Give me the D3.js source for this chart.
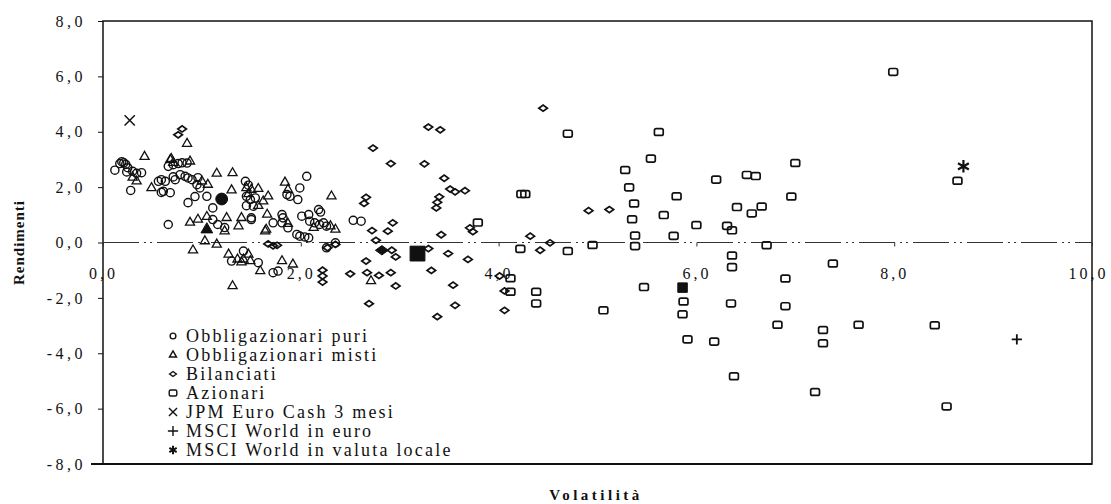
<!DOCTYPE html>
<html>
<head>
<meta charset="utf-8">
<script src="https://cdn.jsdelivr.net/npm/d3@7"></script>
<style>
  body { margin: 0; background: #fff; }
  svg { display: block; font-family: "Liberation Serif", "DejaVu Serif", serif; }
</style>
</head>
<body>
<svg id="chart" width="1111" height="504"></svg>
<script>
// valori: [volatilita, rendimento]
let obbligPuri = [
  [0.12, 2.61], [0.17, 2.85], [0.19, 2.92], [0.21, 2.88], [0.23, 2.82], [0.25, 2.7],
  [0.24, 2.55], [0.3, 2.57], [0.34, 2.5], [0.39, 2.52], [0.28, 1.88],
  [0.56, 2.21], [0.63, 2.21], [0.59, 2.27], [0.61, 1.85], [0.68, 1.8], [0.59, 1.81],
  [0.71, 2.81], [0.76, 2.85], [0.8, 2.88], [0.66, 2.75], [0.85, 2.87],
  [0.71, 2.37], [0.73, 2.27], [0.78, 2.45], [0.83, 2.39], [0.9, 2.27], [0.96, 2.34], [0.86, 2.33],
  [0.95, 2.09], [0.98, 1.97], [0.93, 1.66], [0.86, 1.44], [1.05, 1.67], [1.11, 1.25],
  [0.66, 0.65],
  [1.44, 2.21], [1.47, 2.07], [1.45, 1.67], [1.49, 1.55], [1.54, 1.61], [1.45, 1.33], [1.52, 1.31],
  [1.86, 1.73], [1.89, 1.67], [2.06, 2.39], [1.99, 1.97], [1.97, 1.55],
  [1.11, 0.83], [1.16, 0.65], [1.23, 0.54], [1.5, 0.89], [1.5, 0.83],
  [1.81, 1.01], [1.82, 0.89], [1.72, 0.71], [1.81, 0.71], [1.87, 0.53],
  [2.01, 0.95], [2.08, 1.01], [2.18, 1.19], [2.2, 1.1], [2.09, 0.77], [2.14, 0.71],
  [2.19, 0.65], [2.23, 0.71], [2.26, 0.59],
  [1.96, 0.29], [1.99, 0.23], [2.08, 0.17], [2.04, 0.2],
  [2.26, -0.19], [2.35, -0.01],
  [1.3, -0.67], [1.42, -0.31], [1.57, -0.73], [1.72, -1.09], [1.77, -1.03],
  [2.53, 0.8], [2.61, 0.77]
];

let obbligMisti = [
  [0.42, 3.1], [0.34, 2.21], [0.3, 2.35], [0.49, 1.97], [0.68, 2.99], [0.71, 2.88],
  [0.88, 2.93], [0.85, 3.57], [0.69, 3.02],
  [1.0, 2.21], [1.06, 2.09], [1.15, 2.49], [1.31, 2.51], [1.3, 1.89],
  [1.45, 1.97], [1.5, 1.91], [1.57, 1.94], [1.57, 1.33], [1.47, 1.75],
  [1.84, 2.17], [1.87, 1.91], [2.31, 1.67], [1.67, 1.67], [1.62, 1.49],
  [0.88, 0.72], [0.96, 0.83], [1.05, 0.93], [1.25, 0.89], [1.23, 0.41], [1.37, 0.59],
  [1.4, 0.89], [1.66, 1.01], [1.64, 0.41], [1.87, 0.68], [2.13, 0.53], [2.3, 0.59],
  [2.35, 0.47], [1.65, 0.47],
  [0.91, -0.28], [1.03, 0.05], [1.15, -0.07], [1.27, -0.43], [1.4, -0.71], [1.47, -0.43],
  [1.49, -0.67], [1.42, -0.61], [1.36, -0.61], [1.59, -1.03], [1.81, -0.67], [1.92, -0.79],
  [1.31, -1.57], [2.71, -1.39]
];

let bilanciati = [
  [4.45, 4.85], [3.29, 4.17], [3.41, 4.07], [2.73, 3.41], [2.91, 2.85], [3.25, 2.84],
  [3.45, 2.32], [3.51, 1.93], [3.56, 1.83], [3.66, 1.87], [2.66, 1.63], [2.64, 1.41],
  [3.4, 1.65], [3.38, 1.45], [3.37, 1.25], [2.93, 0.71], [2.88, 0.41], [2.72, 0.43],
  [2.76, 0.08], [3.71, 0.53], [3.74, 0.39], [3.42, 0.28], [2.92, -0.28], [2.96, -0.52],
  [3.29, -0.22], [3.49, -0.4], [3.69, -0.61], [2.66, -0.67], [2.5, -1.13], [2.67, -1.09],
  [2.79, -1.19], [2.91, -1.09], [2.96, -1.57], [3.32, -1.01], [3.54, -1.54],
  [4.32, 0.23], [4.42, -0.28], [4.52, -0.01], [4.01, -1.21], [4.06, -1.75], [4.06, -2.45],
  [3.38, -2.68], [3.56, -2.27], [2.69, -2.21], [4.91, 1.15], [5.12, 1.19],
  [0.76, 3.89], [0.8, 4.1], [2.22, -1.0], [2.22, -1.21], [2.22, -1.43],
  [1.67, -0.05], [1.72, -0.12], [1.76, -0.1], [2.27, -0.19], [2.35, -0.07]
];

let azionari = [
  [4.7, 3.93], [5.62, 3.99], [5.54, 3.03], [5.28, 2.62], [5.32, 1.99], [5.37, 1.41],
  [5.35, 0.84], [5.38, 0.25], [5.38, -0.13], [4.95, -0.09], [4.7, -0.31], [5.8, 1.67],
  [5.67, 0.99], [5.77, 0.24], [6.0, 0.63], [6.2, 2.27], [6.51, 2.44], [6.6, 2.4],
  [7.0, 2.87], [6.96, 1.66], [6.41, 1.28], [6.66, 1.3], [6.56, 1.05], [6.31, 0.6],
  [6.36, 0.44], [6.71, -0.1], [6.36, -0.47], [6.36, -0.89], [7.38, -0.76], [6.9, -1.3],
  [5.47, -1.61], [5.06, -2.45], [5.87, -2.13], [5.86, -2.59], [6.35, -2.2], [6.9, -2.3],
  [6.82, -2.97], [7.64, -2.97], [7.28, -3.16], [7.28, -3.64], [5.91, -3.5], [6.18, -3.58],
  [6.38, -4.83], [7.2, -5.4], [8.64, 2.23], [8.41, -2.99], [8.53, -5.92], [7.99, 6.16],
  [4.23, 1.75], [4.27, 1.75], [4.22, -0.23], [4.12, -1.29], [4.12, -1.78], [4.38, -1.78],
  [4.38, -2.2], [3.79, 0.72]
];

let jpmCash = [[0.27, 4.41]];
let msciEuro = [[9.24, -3.5]];
let msciLocale = [[8.7, 2.75]];

// medie (simboli pieni)
let mediaPuri = [[1.2, 1.57]];
let mediaMisti = [[1.05, 0.47]];
let mediaBilanciati = [[2.82, -0.28]];
let mediaTotale = [[3.18, -0.4]];
let mediaAzionari = [[5.86, -1.63]];

let xTicks = [0, 2, 4, 6, 8, 10];
let xTickLabels = ["0,0", "2,0", "4,0", "6,0", "8,0", "10,0"];
let yTicks = [-8, -6, -4, -2, 0, 2, 4, 6, 8];
let yTickLabels = ["-8,0", "-6,0", "-4,0", "-2,0", "0,0", "2,0", "4,0", "6,0", "8,0"];

let legendLabels = [
  "Obbligazionari puri",
  "Obbligazionari misti",
  "Bilanciati",
  "Azionari",
  "JPM Euro Cash 3 mesi",
  "MSCI World in euro",
  "MSCI World in valuta locale"
];

let svg = d3.select("#chart");

let x = d3.scaleLinear().domain([0, 10]).range([103, 1092]);
let y = d3.scaleLinear().domain([-8, 8]).range([464, 21]);

// diamante piu largo che alto
let wideDiamond = {
  draw(ctx, size) {
    let w = size;
    let h = size * 0.72;
    ctx.moveTo(-w, 0);
    ctx.lineTo(0, -h);
    ctx.lineTo(w, 0);
    ctx.lineTo(0, h);
    ctx.closePath();
  }
};

// rettangolo arrotondato
let roundBox = {
  draw(ctx, size) {
    let w = size;
    let h = size * 0.78;
    let r = size * 0.4;
    ctx.moveTo(-w + r, -h);
    ctx.arcTo(w, -h, w, h, r);
    ctx.arcTo(w, h, -w, h, r);
    ctx.arcTo(-w, h, -w, -h, r);
    ctx.arcTo(-w, -h, w, -h, r);
    ctx.closePath();
  }
};

// frame
svg
  .append("rect")
  .attr("x", x(0))
  .attr("y", y(8))
  .attr("width", x(10) - x(0))
  .attr("height", y(-8) - y(8))
  .style("fill", "none")
  .style("stroke", "#111")
  .style("stroke-width", 1.5);

svg
  .append("line")
  .attr("x1", x(0) - 12)
  .attr("x2", x(10))
  .attr("y1", y(-8))
  .attr("y2", y(-8))
  .style("stroke", "#111")
  .style("stroke-width", 2);

// linea dello zero
svg
  .append("line")
  .attr("x1", x(0))
  .attr("x2", x(10))
  .attr("y1", y(0))
  .attr("y2", y(0))
  .style("stroke", "#333")
  .style("stroke-width", 1.2)
  .style("stroke-dasharray", "36,5,2,4,2,5");

// asse y
let yAxis = d3
  .axisLeft(y)
  .tickValues(yTicks)
  .tickSize(5)
  .tickPadding(12)
  .tickFormat((d, i) => yTickLabels[i]);

svg
  .append("g")
  .attr("transform", `translate(${x(0)},0)`)
  .call(yAxis)
  .call((g) => g.select(".domain").remove())
  .call((g) => g.selectAll("line").style("stroke", "#111"))
  .call((g) =>
    g
      .selectAll("text")
      .style("font-family", "Liberation Serif")
      .style("font-size", "16px")
      .style("letter-spacing", "3.5px")
      .style("fill", "#111")
  );

// asse x sulla linea dello zero
let xAxis = d3
  .axisBottom(x)
  .tickValues(xTicks)
  .tickSize(4)
  .tickPadding(21)
  .tickFormat((d, i) => xTickLabels[i]);

svg
  .append("g")
  .attr("transform", `translate(0,${y(0)})`)
  .call(xAxis)
  .call((g) => g.select(".domain").remove())
  .call((g) => g.selectAll("line").style("stroke", "#333"))
  .call((g) =>
    g
      .selectAll("text")
      .attr("dx", (d) => (d == 10 ? -4 : 0))
      .style("font-family", "Liberation Serif")
      .style("font-size", "16px")
      .style("letter-spacing", "3px")
      .style("fill", "#111")
  );

// titoli assi
svg
  .append("text")
  .attr("transform", `translate(24,${y(0)}) rotate(-90)`)
  .attr("text-anchor", "middle")
  .style("font-size", "15px")
  .style("font-weight", "bold")
  .style("letter-spacing", "1px")
  .style("fill", "#111")
  .text("Rendimenti");

svg
  .append("text")
  .attr("x", 596)
  .attr("y", 500)
  .attr("text-anchor", "middle")
  .style("font-size", "15px")
  .style("font-weight", "bold")
  .style("letter-spacing", "3.5px")
  .style("fill", "#111")
  .text("Volatilità");

// punti
function drawPoints(data, type, size, fill, cls, sw) {
  svg
    .append("g")
    .selectAll("." + cls)
    .data(data)
    .join("path")
    .attr("class", cls)
    .attr("transform", (d) => `translate(${x(d[0])},${y(d[1])})`)
    .attr("d", d3.symbol().type(type).size(size))
    .style("fill", fill)
    .style("stroke", "#111")
    .style("stroke-width", sw);
}

drawPoints(obbligPuri, d3.symbolCircle, 52, "none", "puri", 1.4);
drawPoints(obbligMisti, d3.symbolTriangle, 36, "none", "misti", 1.3);
drawPoints(bilanciati, wideDiamond, 4.3, "none", "bil", 1.7);
drawPoints(azionari, roundBox, 4.4, "none", "az", 1.7);
drawPoints(jpmCash, d3.symbolTimes, 70, "none", "jpm", 1.5);
drawPoints(msciEuro, d3.symbolPlus, 36, "none", "meur", 1.8);
drawPoints(msciLocale, d3.symbolAsterisk, 110, "none", "mloc", 2.2);

drawPoints(mediaPuri, d3.symbolCircle, 110, "#111", "mpuri", 1);
drawPoints(mediaMisti, d3.symbolTriangle, 60, "#111", "mmisti", 1);
drawPoints(mediaBilanciati, wideDiamond, 6.5, "#111", "mbil", 1);
drawPoints(mediaTotale, d3.symbolSquare, 220, "#111", "mtot", 1);
drawPoints(mediaAzionari, d3.symbolSquare, 90, "#111", "maz", 1);

// legenda
let legendSymbols = [
  { type: d3.symbolCircle, size: 26 },
  { type: d3.symbolTriangle, size: 22 },
  { type: wideDiamond, size: 3.4 },
  { type: roundBox, size: 3.8 },
  { type: d3.symbolTimes, size: 44 },
  { type: d3.symbolPlus, size: 36 },
  { type: d3.symbolAsterisk, size: 50 }
];

let legend = svg.append("g").attr("transform", "translate(173,336)");

let rows = legend
  .selectAll(".row")
  .data(legendLabels)
  .join("g")
  .attr("class", "row")
  .attr("transform", (d, i) => `translate(0,${i * 19})`);

rows
  .append("path")
  .attr("d", (d, i) =>
    d3.symbol().type(legendSymbols[i].type).size(legendSymbols[i].size)()
  )
  .style("fill", "none")
  .style("stroke", "#111")
  .style("stroke-width", (d, i) => (i == 6 ? 2 : 1.4));

rows
  .append("text")
  .attr("x", 13)
  .attr("dy", "0.35em")
  .style("font-size", "18px")
  .style("letter-spacing", "2.2px")
  .style("fill", "#111")
  .text((d) => d);
</script>
</body>
</html>
